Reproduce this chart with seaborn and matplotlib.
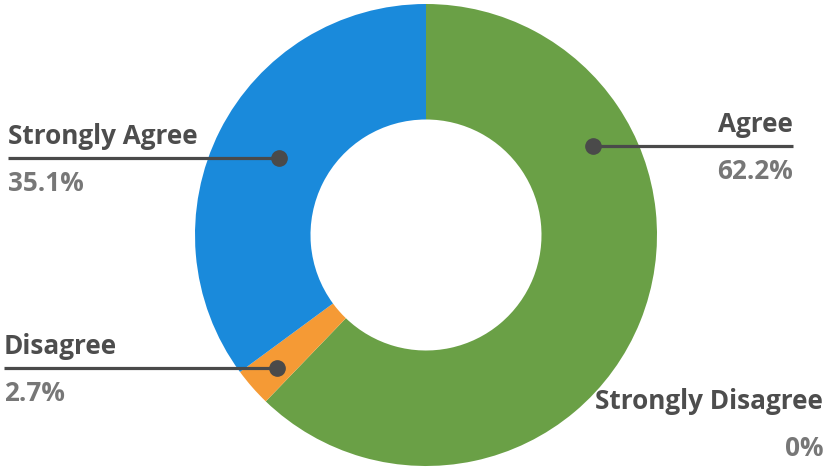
import matplotlib
matplotlib.use("Agg")
import matplotlib.pyplot as plt
import seaborn as sns

categories = ["Agree", "Strongly Disagree", "Disagree", "Strongly Agree"]
values = [62.2, 0.0, 2.7, 35.1]
pct_labels = ["62.2%", "0%", "2.7%", "35.1%"]
colors = ["#6aa046", "#6aa046", "#f59a35", "#1a8adb"]

sns.set_theme(style="white")
plt.rcParams["font.family"] = ["Open Sans", "DejaVu Sans"]

W, H = 826, 468
fig = plt.figure(figsize=(W / 100, H / 100), dpi=100)
ax = fig.add_axes([0, 0, 1, 1])
ax.set_xlim(0, W)
ax.set_ylim(0, H)
ax.set_aspect("equal")
ax.axis("off")

cx, cy, R = 426, H - 235, 231
ax.pie(values, colors=colors, startangle=90, counterclock=False,
       center=(cx, cy), radius=R,
       wedgeprops=dict(width=R * 0.5, linewidth=0))
ax.set_xlim(0, W)
ax.set_ylim(0, H)

# label layout: (dot x, dot y, line end x, text x, align) in pixel coords
layout = {
    "Agree": (593, 146, 793, 793, "right"),
    "Strongly Agree": (279, 158, 8, 8, "left"),
    "Disagree": (277, 368, 4, 4, "left"),
    "Strongly Disagree": (None, 423, None, 823, "right"),
}

line_c = "#4a4a4a"
for name, pct in zip(categories, pct_labels):
    dx, dy, lx, tx, ha = layout[name]
    if dx is not None:
        ax.plot([lx, dx], [H - dy, H - dy], color=line_c, lw=2.3,
                solid_capstyle="butt", zorder=3)
        ax.plot(dx, H - dy, "o", color=line_c, ms=11, zorder=4)
    ax.text(tx, H - dy + 14, name, ha=ha, va="baseline", fontsize=18.8,
            fontweight="bold", color="#4d4d4d")
    ax.text(tx, H - dy - 33, pct, ha=ha, va="baseline", fontsize=18.8,
            fontweight="bold", color="#777777")

fig.savefig("out.png", dpi=100)
